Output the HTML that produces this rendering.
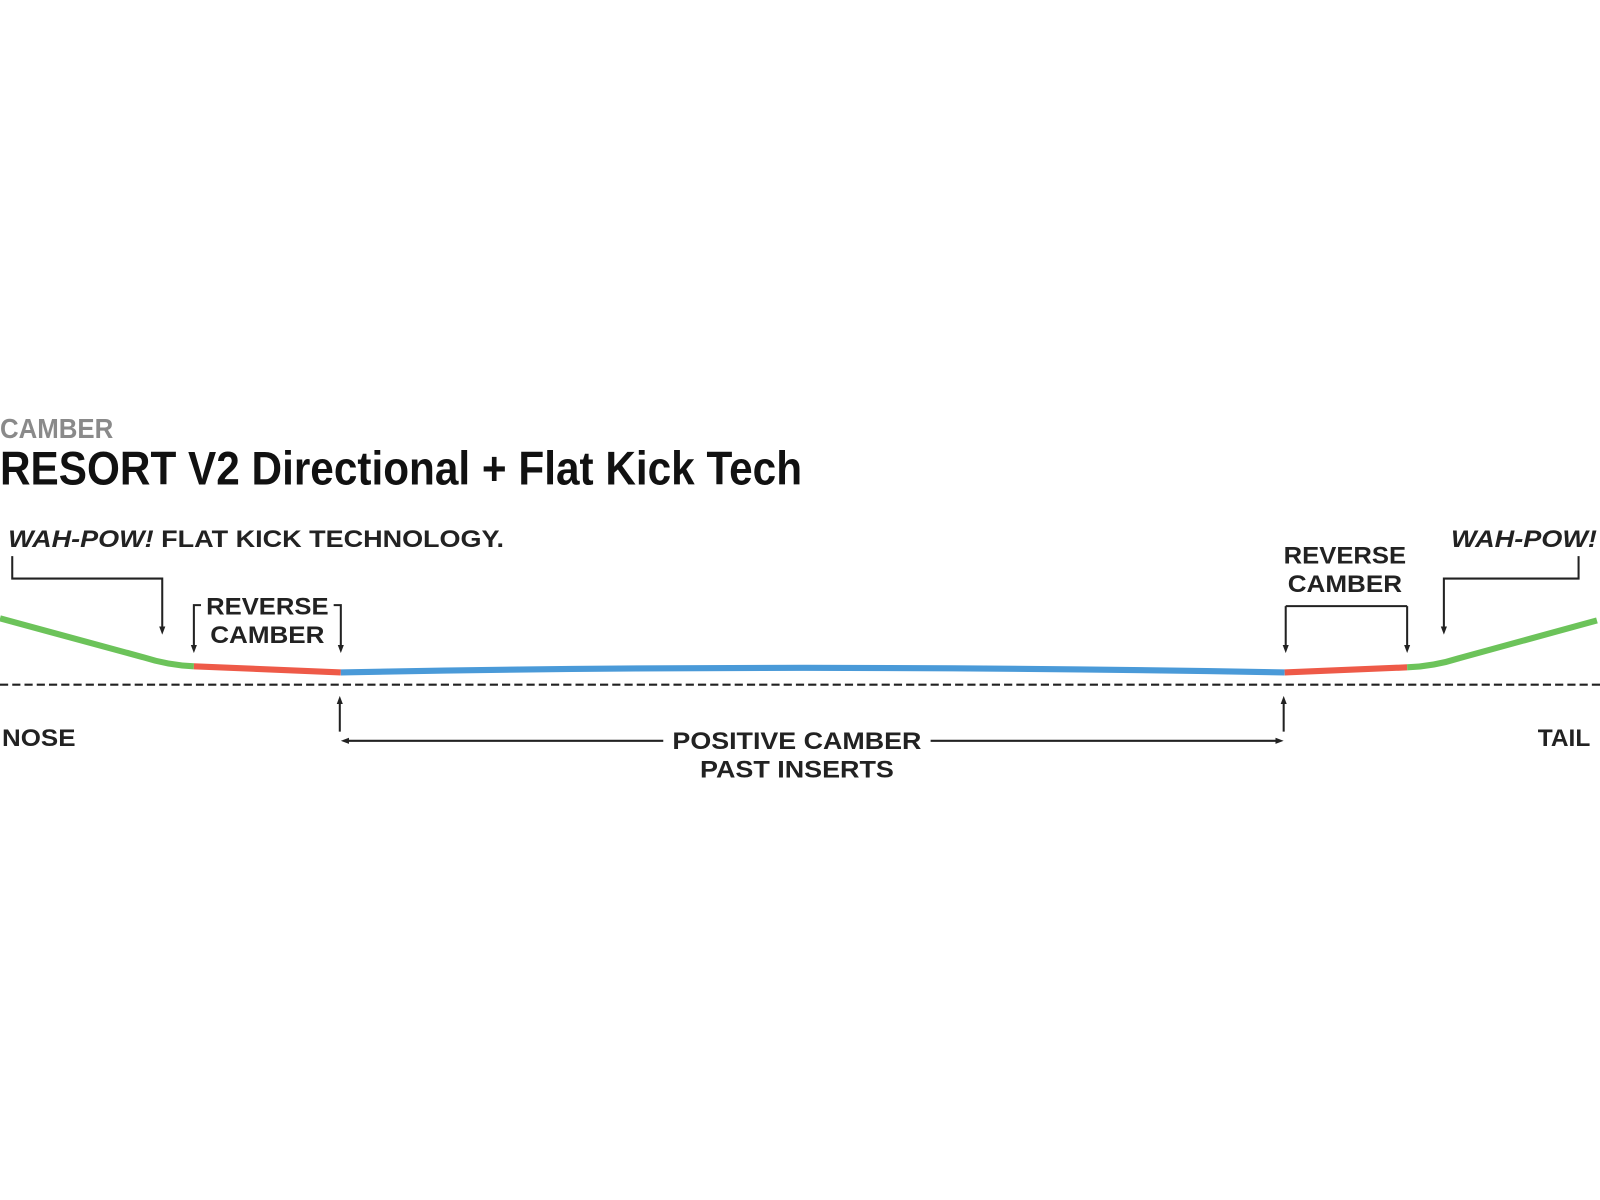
<!DOCTYPE html>
<html><head><meta charset="utf-8"><style>
html,body{margin:0;padding:0;background:#fff;width:1600px;height:1200px;overflow:hidden}
svg{display:block}
text{font-family:"Liberation Sans",sans-serif;font-weight:bold;fill:#222}
</style></head><body>
<svg width="1600" height="1200" viewBox="0 0 1568 1176" xmlns="http://www.w3.org/2000/svg">
<defs><marker id="a" markerWidth="8" markerHeight="8" refX="4" refY="4" orient="auto" markerUnits="userSpaceOnUse"><path d="M0,1 L8,4 L0,7 z" fill="#222"/></marker></defs>
<text x="0" y="429" font-size="27" textLength="111" lengthAdjust="spacingAndGlyphs" style="fill:#8a8a8a">CAMBER</text>
<text x="0" y="475" font-size="46" textLength="786" lengthAdjust="spacingAndGlyphs" style="fill:#111">RESORT V2 Directional + Flat Kick Tech</text>
<text x="8" y="536" font-size="24" textLength="486" lengthAdjust="spacingAndGlyphs"><tspan font-style="italic">WAH-POW!</tspan> FLAT KICK TECHNOLOGY.</text>
<g fill="none" stroke="#222" stroke-width="2">
<path d="M12,545 V567 H159 V618" marker-end="url(#a)"/>
<path d="M197,593 H190 V636" marker-end="url(#a)"/>
<path d="M327,593 H334 V636" marker-end="url(#a)"/>
<path d="M1260,594 H1379" />
<path d="M1260,594 V636" marker-end="url(#a)"/>
<path d="M1379,594 V636" marker-end="url(#a)"/>
<path d="M1547,545 V567 H1415 V618" marker-end="url(#a)"/>
<path d="M333,717 V686" marker-end="url(#a)"/>
<path d="M1258,717 V686" marker-end="url(#a)"/>
<path d="M650,726 H338" marker-end="url(#a)"/>
<path d="M912,726 H1254" marker-end="url(#a)"/>
</g>
<text x="262" y="602" font-size="24" text-anchor="middle" textLength="120" lengthAdjust="spacingAndGlyphs">REVERSE</text>
<text x="262" y="630" font-size="24" text-anchor="middle" textLength="112" lengthAdjust="spacingAndGlyphs">CAMBER</text>
<text x="1318" y="552" font-size="24" text-anchor="middle" textLength="120" lengthAdjust="spacingAndGlyphs">REVERSE</text>
<text x="1318" y="580" font-size="24" text-anchor="middle" textLength="112" lengthAdjust="spacingAndGlyphs">CAMBER</text>
<text x="1422" y="536" font-size="24" font-style="italic" textLength="143" lengthAdjust="spacingAndGlyphs">WAH-POW!</text>
<text x="2" y="731" font-size="24" textLength="72" lengthAdjust="spacingAndGlyphs">NOSE</text>
<text x="1507" y="731" font-size="24">TAIL</text>
<text x="659" y="734" font-size="24" textLength="244" lengthAdjust="spacingAndGlyphs">POSITIVE CAMBER</text>
<text x="686" y="762" font-size="24" textLength="190" lengthAdjust="spacingAndGlyphs">PAST INSERTS</text>
<line x1="0" y1="671" x2="1568" y2="671" stroke="#222" stroke-width="2" stroke-dasharray="8,4"/>
<g fill="none" stroke-width="6">
<path d="M0,606 L140,644 Q165,652 190,653" stroke="#6cc35a"/>
<path d="M190,653 L334,659" stroke="#ee5a48"/>
<path d="M334,659 Q780,650 1259,659" stroke="#4a9ad8"/>
<path d="M1259,659 L1379,654" stroke="#ee5a48"/>
<path d="M1379,654 Q1405,653 1430,645 L1565,608" stroke="#6cc35a"/>
</g>
</svg>
</body></html>
